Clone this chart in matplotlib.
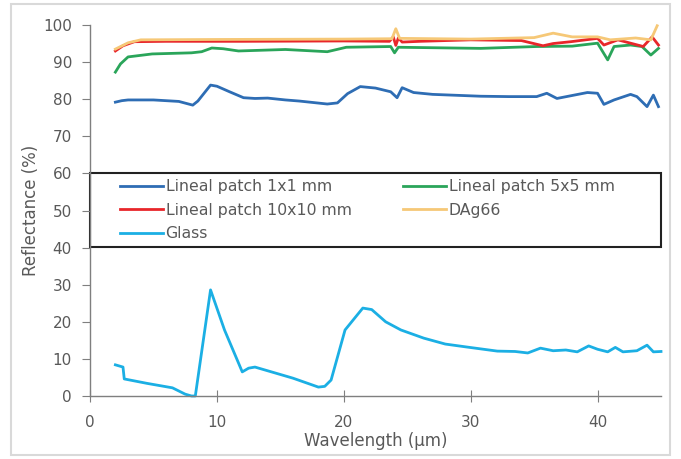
import matplotlib
matplotlib.use("Agg")
import matplotlib.pyplot as plt
from matplotlib.patches import Rectangle

plt.rcParams["font.family"] = ["DejaVu Sans"]

# reflectance spectra (wavelength in um, reflectance in %)
wl_1x1 = [2, 2.5, 3, 5, 7, 8.1, 8.5, 9.5, 10, 11, 12.1, 13, 14, 15.4, 16.5,
          18.7, 19.5, 20.3, 21.3, 22.5, 23.7, 24.2, 24.6, 25.5, 27, 30.8,
          33, 35.2, 36, 36.8, 38, 39.2, 40, 40.5, 41.3, 42.6, 43.1, 43.9,
          44.4, 44.8]
refl_1x1 = [79.2, 79.6, 79.8, 79.8, 79.4, 78.4, 79.5, 83.8, 83.5, 82.0,
            80.4, 80.2, 80.3, 79.8, 79.5, 78.7, 79.0, 81.5, 83.4, 83.0,
            82.0, 80.4, 83.1, 81.8, 81.3, 80.8, 80.7, 80.7, 81.6, 80.2,
            81.0, 81.8, 81.6, 78.6, 79.8, 81.3, 80.7, 78.0, 81.1, 78.0]

wl_5x5 = [2, 2.4, 3, 4.9, 8, 8.8, 9.6, 10.5, 11.7, 15.4, 18.7, 20.2, 23.7,
          24.0, 24.3, 30.8, 35.2, 38, 40, 40.8, 41.3, 42.6, 43.5, 44.2, 44.8]
refl_5x5 = [87.3, 89.5, 91.4, 92.2, 92.5, 92.8, 93.8, 93.6, 93.0, 93.4,
            92.8, 94.0, 94.2, 92.5, 94.0, 93.7, 94.2, 94.3, 95.1, 90.6,
            94.2, 94.6, 94.2, 91.9, 93.7]

wl_10x10 = [2, 2.6, 3.5, 6, 12, 20, 23.6, 23.9, 24.1, 24.3, 24.6, 26, 30,
            34, 35.7, 36.5, 37.9, 40, 40.5, 41.6, 43.6, 44.3, 44.8]
refl_10x10 = [93.0, 94.4, 95.5, 95.6, 95.6, 95.7, 95.6, 96.8, 94.5, 96.5,
              95.4, 95.6, 96.0, 95.8, 94.4, 95.0, 95.5, 96.4, 94.6, 96.0,
              94.2, 96.8, 94.6]

wl_dag = [2, 3, 4, 10, 20, 23.8, 24.1, 24.4, 30, 35, 36.5, 38, 40, 41,
          43, 44.2, 44.7]
refl_dag = [93.5, 95.2, 96.0, 96.1, 96.2, 96.3, 99.0, 96.4, 96.2, 96.6,
            97.8, 96.8, 96.8, 96.0, 96.5, 96.0, 99.8]

wl_glass = [2, 2.6, 2.7, 4.5, 6.5, 7.5, 8.0, 8.3, 9.5, 10.6, 12, 12.5, 13,
            14, 16, 18, 18.5, 19, 20.1, 21.5, 22.2, 23.3, 24.5, 26.3, 28,
            29.7, 32.1, 33.5, 34.5, 35.5, 36.5, 37.5, 38.4, 39.3, 40.0,
            40.8, 41.4, 42, 43.1, 43.9, 44.4, 45]
refl_glass = [8.4, 7.8, 4.6, 3.4, 2.2, 0.5, 0.0, 0.0, 28.6, 17.8, 6.5, 7.5,
              7.8, 6.8, 4.8, 2.4, 2.6, 4.3, 17.8, 23.7, 23.3, 20.0, 17.8,
              15.6, 14.0, 13.2, 12.1, 12.0, 11.6, 12.9, 12.2, 12.4, 11.9,
              13.5, 12.6, 11.9, 13.1, 11.9, 12.2, 13.7, 11.9, 12.0]

series = [
    ("Lineal patch 1x1 mm", wl_1x1, refl_1x1, "#2E6DB4"),
    ("Lineal patch 5x5 mm", wl_5x5, refl_5x5, "#2AA55A"),
    ("Lineal patch 10x10 mm", wl_10x10, refl_10x10, "#E8262A"),
    ("DAg66", wl_dag, refl_dag, "#F6C877"),
    ("Glass", wl_glass, refl_glass, "#1BAFE4"),
]

grey = "#595959"

fig = plt.figure(figsize=(6.81, 4.59), dpi=100)
fig.patches.append(
    Rectangle((11 / 681, 4 / 459), 659 / 681, 451 / 459,
              transform=fig.transFigure, fill=False,
              edgecolor="#D9D9D9", linewidth=1.5)
)

ax = fig.add_axes([90 / 681, 1 - 396 / 459, 571 / 681, 371 / 459])

lines = {}
for label, x, y, color in series:
    lines[label], = ax.plot(x, y, color=color, linewidth=2.0, label=label,
                            clip_on=False)

ax.set_xlim(0, 45)
ax.set_ylim(0, 100)
ax.set_xticks([0, 10, 20, 30, 40])
ax.set_yticks(range(0, 101, 10))

for side in ["top", "right"]:
    ax.spines[side].set_visible(False)
for side in ["left", "bottom"]:
    ax.spines[side].set_color("#7F7F7F")
    ax.spines[side].set_linewidth(1.0)

ax.tick_params(axis="y", direction="out", length=6, color="#7F7F7F",
               labelcolor=grey, labelsize=11, pad=7)
ax.tick_params(axis="x", direction="inout", length=8, color="#7F7F7F",
               labelcolor=grey, labelsize=11, pad=10)

ax.set_xlabel("Wavelength (\u00b5m)", color=grey, fontsize=12, labelpad=1)
ax.set_ylabel("Reflectance (%)", color=grey, fontsize=12, labelpad=2)

# legend rows read left to right: matplotlib fills columns first
order = ["Lineal patch 1x1 mm", "Lineal patch 10x10 mm", "Glass",
         "Lineal patch 5x5 mm", "DAg66"]
leg = ax.legend([lines[k] for k in order], order, loc="upper left",
                bbox_to_anchor=((120 - 90) / 571, (396 - 179) / 371),
                ncol=2, frameon=False, fontsize=11.3, handlelength=2.75,
                handletextpad=0.15, borderaxespad=0, borderpad=0,
                labelspacing=0.55, columnspacing=3.3)
for text in leg.get_texts():
    text.set_color(grey)

ax.add_patch(Rectangle((0, (396 - 247) / 371), 1.0, 74 / 371,
                       transform=ax.transAxes, fill=False,
                       edgecolor="#222222", linewidth=1.5, clip_on=False))

fig.savefig("out.png", dpi=100)
